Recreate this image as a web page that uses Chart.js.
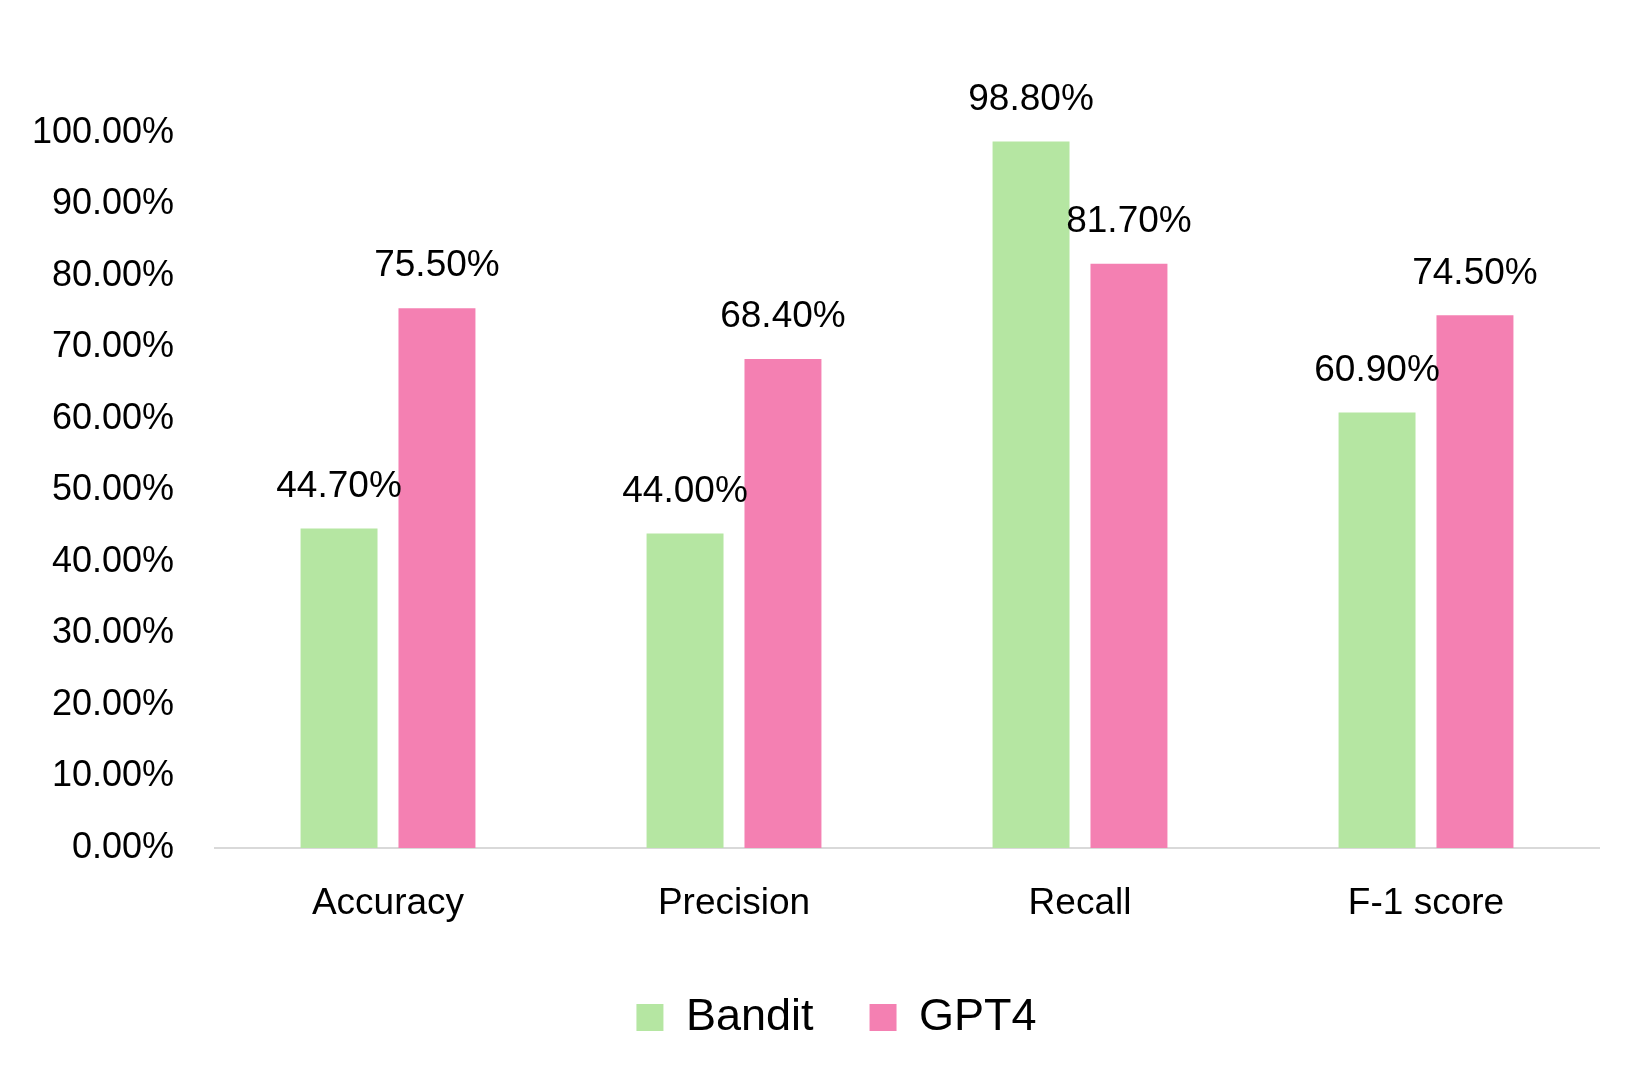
<!DOCTYPE html>
<html>
<head>
<meta charset="utf-8">
<script src="https://cdn.jsdelivr.net/npm/chart.js@4.4.1/dist/chart.umd.min.js"></script>
<style>
html,body{margin:0;padding:0;background:#fff;}
#wrap{width:1650px;height:1078px;position:relative;}
</style>
</head>
<body>
<div id="wrap"><canvas id="c" width="1650" height="1078"></canvas></div>
<script>
const categories = ["Accuracy", "Precision", "Recall", "F-1 score"];
const banditValues = [44.7, 44.0, 98.8, 60.9];
const gpt4Values = [75.5, 68.4, 81.7, 74.5];
const seriesNames = ["Bandit", "GPT4"];
const yTickMin = 0, yTickMax = 100, yTickStep = 10;

const labelPlugin = {
  id: 'barLabels',
  afterLayout(chart) {
    if (chart.legend) {
      chart.legend.left += 37;
      chart.legend.right += 37;
    }
  },
  afterDatasetsDraw(chart) {
    const ctx = chart.ctx;
    ctx.save();
    ctx.font = '37px "Liberation Sans", Arial, sans-serif';
    ctx.fillStyle = '#000';
    ctx.textAlign = 'center';
    ctx.textBaseline = 'middle';
    chart.data.datasets.forEach((ds, i) => {
      const meta = chart.getDatasetMeta(i);
      meta.data.forEach((el, j) => {
        ctx.fillText(ds.data[j].toFixed(2) + '%', el.x, el.y - 42);
      });
    });
    ctx.restore();
  }
};

new Chart(document.getElementById('c'), {
  type: 'bar',
  data: {
    labels: categories,
    datasets: [
      { label: seriesNames[0], data: banditValues, backgroundColor: '#b5e6a2', categoryPercentage: 0.566, barPercentage: 0.786 },
      { label: seriesNames[1], data: gpt4Values, backgroundColor: '#f480b2', categoryPercentage: 0.566, barPercentage: 0.786 }
    ]
  },
  options: {
    responsive: false,
    animation: false,
    layout: { padding: { top: 133, left: 0, right: 51, bottom: 28 } },
    plugins: {
      tooltip: { enabled: false },
      legend: {
        position: 'bottom',
        labels: {
          color: '#000',
          font: { family: '"Liberation Sans", Arial, sans-serif', size: 45 },
          boxWidth: 27, boxHeight: 27, padding: 56
        }
      }
    },
    scales: {
      x: {
        grid: { display: false, drawTicks: false },
        border: { display: true, color: '#d9d9d9', width: 2 },
        ticks: { color: '#000', padding: 34, font: { family: '"Liberation Sans", Arial, sans-serif', size: 37 } },
        afterFit(s) { s.height = 91; }
      },
      y: {
        min: yTickMin, max: yTickMax,
        grid: { display: false, drawTicks: false },
        border: { display: false },
        ticks: {
          stepSize: yTickStep, color: '#000', padding: 41,
          font: { family: '"Liberation Sans", Arial, sans-serif', size: 36 },
          callback: v => v.toFixed(2) + '%'
        },
        afterFit(s) { s.width = 215; }
      }
    }
  },
  plugins: [labelPlugin]
});
</script>
</body>
</html>
